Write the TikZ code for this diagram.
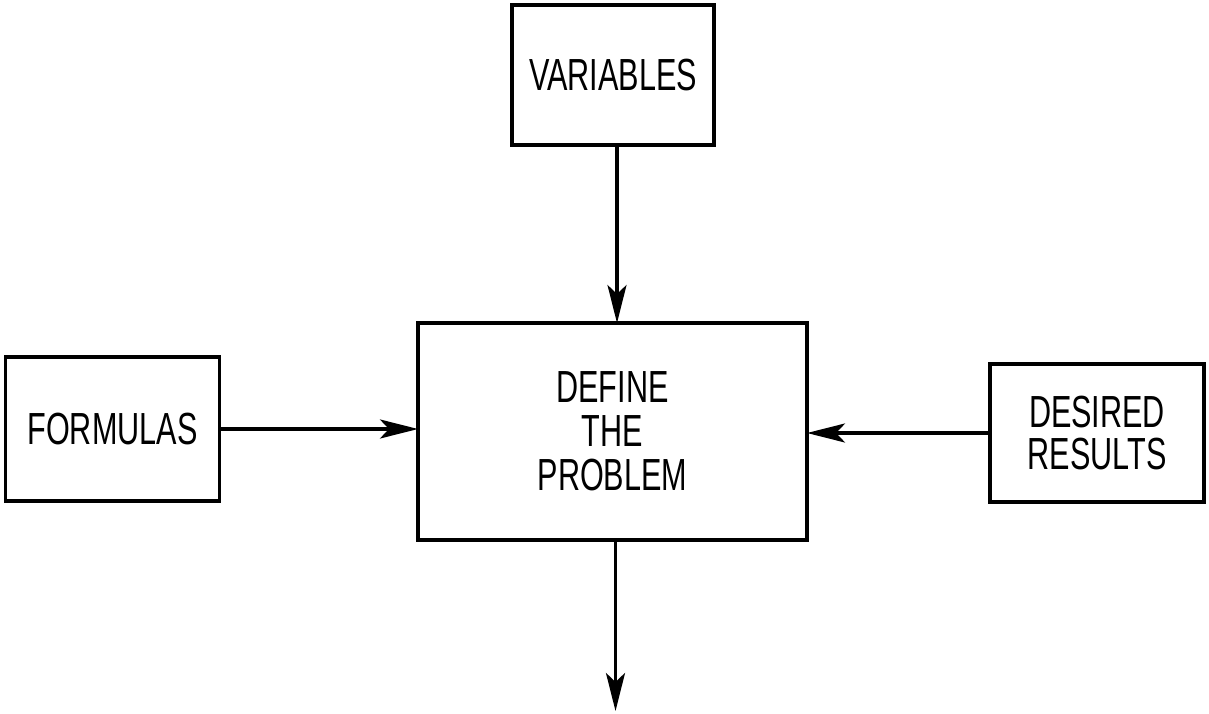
\documentclass[tikz,border=0pt]{standalone}
\usepackage{fontspec}
\setmainfont{Liberation Sans}[FakeStretch=0.68]
\usetikzlibrary{arrows.meta}
\begin{document}
\begin{tikzpicture}[x=1pt,y=1pt,
  blk/.style={draw, line width=3.6pt, inner sep=0pt, outer sep=0pt,
    align=center, font=\fontsize{45}{46}\selectfont},
  arr/.style={line width=3.4pt,
    -{Stealth[length=38pt,width=19pt,inset=9pt]}}]
  \useasboundingbox (0,0) rectangle (1209,-714);

  \node[blk, minimum width=202pt, minimum height=140pt] (var) at (613,-75) {VARIABLES};
  \node[blk, minimum width=389pt, minimum height=217pt,
        font=\fontsize{45}{44}\selectfont] (main) at (612.5,-431.5) {DEFINE\\THE\\PROBLEM};
  \node[blk, minimum width=214pt, minimum height=144pt] (form) at (112.5,-429) {FORMULAS};
  \node[blk, minimum width=214pt, minimum height=138pt,
        font=\fontsize{45}{42}\selectfont] (des) at (1097,-433) {DESIRED\\RESULTS};

  \coordinate (out) at (615.5,-711);

  \draw[arr] ([xshift=4pt]var.south) -- ([xshift=4.5pt]main.north);
  \draw[arr] (form.east) -- (form.east -| main.west);
  \draw[arr] (des.west) -- (des.west -| main.east);
  \draw[arr] ([xshift=3pt]main.south) -- (out);
\end{tikzpicture}
\end{document}
